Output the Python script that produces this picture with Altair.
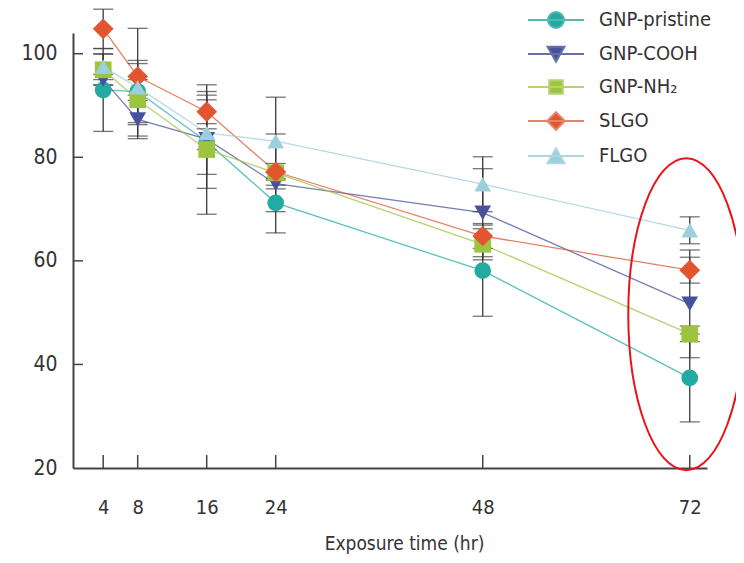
import altair as alt
import pandas as pd

# ---------------- data ----------------
hours = [4, 8, 16, 24, 48, 72]
series_names = ["GNP-pristine", "GNP-COOH", "GNP-NH₂", "SLGO", "FLGO"]

pristine = [93.0, 92.7, 83.0, 71.2, 58.1, 37.4]
cooh = [95.0, 87.3, 83.5, 74.9, 69.3, 51.7]
nh2 = [96.9, 91.1, 81.5, 77.0, 63.2, 45.9]
slgo = [104.8, 95.6, 88.8, 77.2, 64.8, 58.2]
flgo = [97.5, 93.5, 84.7, 83.1, 74.8, 65.9]

pristine_err = [8.0, 6.0, 9.0, 5.8, 8.8, 8.5]
cooh_err = [1.0, 3.7, 2.0, 1.0, 8.5, 10.4]
nh2_err = [3.0, 7.0, 12.5, 7.5, 3.0, 1.5]
slgo_err = [3.8, 9.3, 2.3, 1.6, 2.4, 2.5]
flgo_err = [2.5, 1.5, 8.0, 8.5, 5.3, 2.6]

y_ticks = [20, 40, 60, 80, 100]
x_ticks = [4, 8, 16, 24, 48, 72]

highlight_hour = [71.6]
highlight_value = [49.7]

# ---------------- styles ----------------
colors = ["#24aba1", "#46539c", "#9dc43f", "#e2552f", "#9ccfda"]
line_colors = ["#52bab2", "#6670a8", "#b5d36e", "#e58468", "#acd5de"]
marker_shapes = ["circle", "triangle-down", "square", "diamond", "triangle-up"]
marker_sizes = [280, 280, 280, 430, 280]
legend_paths = [
    "M-3.5,0H3.5M1,0A1,1,0,1,1,-1,0A1,1,0,1,1,1,0Z",
    "M-3.5,0H3.5M-1.05,-0.9L1.05,-0.9L0,0.95Z",
    "M-3.5,0H3.5M-0.85,-0.85H0.85V0.85H-0.85Z",
    "M-3.5,0H3.5M0,-1.1L1.1,0L0,1.1L-1.1,0Z",
    "M-3.5,0H3.5M0,-0.95L1.05,0.9L-1.05,0.9Z",
]
ellipse_path = "M0.372,0A0.372,1,0,1,1,-0.372,0A0.372,1,0,1,1,0.372,0Z"

FONT = "DejaVu Sans Condensed, Open Sans, sans-serif"
TXT = "#333333"
AX = "#444444"

all_vals = [pristine, cooh, nh2, slgo, flgo]
all_errs = [pristine_err, cooh_err, nh2_err, slgo_err, flgo_err]

rows = []
for name, vals, errs in zip(series_names, all_vals, all_errs):
    for h, v, e in zip(hours, vals, errs):
        rows.append({"series": name, "hour": h, "value": v, "lo": v - e, "hi": v + e})
df = pd.DataFrame(rows)

W, H = 634, 435
xs = alt.Scale(domain=[0.5, 74], nice=False, zero=False)
ys = alt.Scale(domain=[20, 104], nice=False, zero=False)

x_axis = alt.Axis(values=x_ticks, ticks=False, grid=False, labelPadding=29,
                  title="Exposure time (hr)", titlePadding=17, titleX=331,
                  domainColor=AX, domainWidth=2, labelFontSize=20, titleFontSize=19,
                  labelFont=FONT, titleFont=FONT, labelColor=TXT, titleColor=TXT,
                  titleFontWeight="normal", labelFlush=False)
y_axis = alt.Axis(values=y_ticks, ticks=False, grid=False, labelPadding=16, title="",
                  domainColor=AX, domainWidth=2, labelFontSize=21, labelFont=FONT,
                  labelColor=TXT, labelFlush=False)


def X(field="hour"):
    return alt.X(f"{field}:Q", scale=xs, axis=x_axis)


def Y(field="value"):
    return alt.Y(f"{field}:Q", scale=ys, axis=y_axis)


def C():
    # data-driven domain (sorted) so it is not merged with the legend scales
    return alt.Color("series:N", sort=series_names, scale=alt.Scale(range=colors), legend=None)


base = alt.Chart(df)

lines = base.mark_line(strokeWidth=1.3, opacity=0.75).encode(x=X(), y=Y(), color=C())

err_rule = base.mark_rule(color="#3a3a3a", strokeWidth=1.3).encode(
    x=X(), y=Y("lo"), y2="hi:Q",
)
cap_lo = base.mark_tick(orient="horizontal", size=20, thickness=1.3, color="#3a3a3a").encode(
    x=X(), y=Y("lo"),
)
cap_hi = base.mark_tick(orient="horizontal", size=20, thickness=1.3, color="#3a3a3a").encode(
    x=X(), y=Y("hi"),
)

ytick_layer = alt.Chart(pd.DataFrame({"value": y_ticks[1:]})).mark_rule(
    color=AX, strokeWidth=1.5).encode(
    y=Y(), x=alt.value(0), x2=alt.value(10),
)
xtick_layer = alt.Chart(pd.DataFrame({"hour": x_ticks})).mark_rule(
    color=AX, strokeWidth=1.5).encode(
    x=X(), y=alt.value(H), y2=alt.value(H - 13),
)

point_layers = []
for name, shp, sz in zip(series_names, marker_shapes, marker_sizes):
    point_layers.append(
        base.transform_filter(alt.datum.series == name).mark_point(
            filled=True, size=sz, opacity=1, shape=shp).encode(
            x=X(), y=Y(), color=C(),
        )
    )

leg = alt.Legend(title=None, orient="none", legendX=473, legendY=-23, symbolSize=256,
                 symbolStrokeWidth=2, symbolOpacity=1, labelOffset=33, rowPadding=10,
                 labelFontSize=20, labelFont=FONT, labelColor=TXT, padding=0)
legend_layer = base.mark_point(filled=True).encode(
    x=X(), y=Y(),
    opacity=alt.value(0),
    shape=alt.Shape("series:N", scale=alt.Scale(domain=series_names, range=legend_paths), legend=leg),
    fill=alt.Fill("series:N", scale=alt.Scale(domain=series_names, range=colors), legend=leg),
    stroke=alt.Stroke("series:N", scale=alt.Scale(domain=series_names, range=line_colors), legend=leg),
)

ellipse = alt.Chart(pd.DataFrame({"hour": highlight_hour, "value": highlight_value})).mark_point(
    shape=ellipse_path, size=312 ** 2, filled=False, color="#e8141b", strokeWidth=2, opacity=1
).encode(x=X(), y=Y())

chart = alt.layer(
    lines, err_rule, cap_lo, cap_hi, ytick_layer, xtick_layer, *point_layers, legend_layer, ellipse
).properties(
    width=W, height=H,
    autosize=alt.AutoSizeParams(type="none"),
    padding={"left": 65, "top": 25, "right": 29, "bottom": 87},
).configure_view(stroke=None)

chart.save("out.html", embed_options={"renderer": "svg", "actions": False})
